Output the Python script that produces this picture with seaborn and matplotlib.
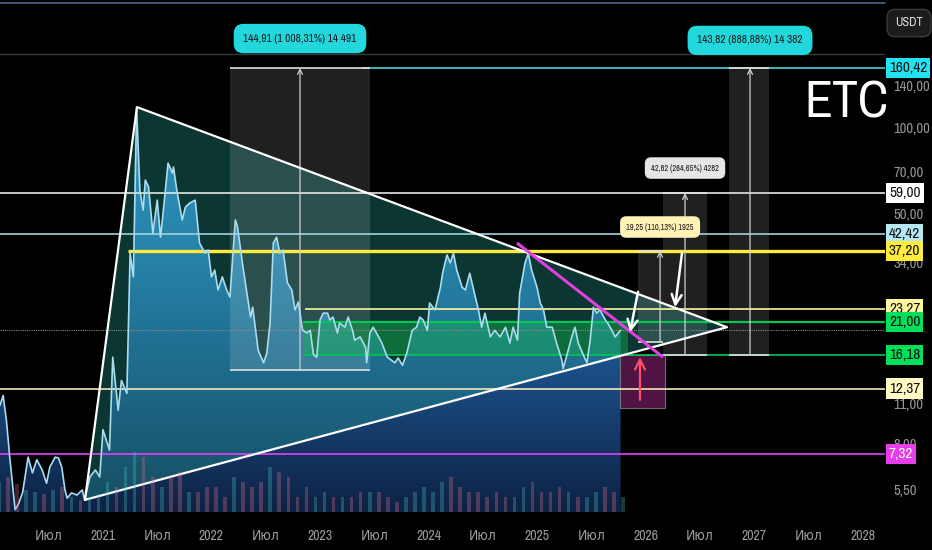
import numpy as np
import pandas as pd
import seaborn as sns
import matplotlib.pyplot as plt
import matplotlib.image as mimage
import matplotlib.transforms as mtransforms
from matplotlib import font_manager
from matplotlib.colors import LinearSegmentedColormap
from matplotlib.patches import Polygon
from matplotlib.ticker import FixedLocator, NullLocator

#------------------------------------------------------------------------------#
# ETC / USDT weekly-ish closes (fractional year, price)
#------------------------------------------------------------------------------#
price_dates = [
    2020.05, 2020.08, 2020.11, 2020.14, 2020.19, 2020.22, 2020.26, 2020.31, 2020.35, 2020.39,
    2020.44, 2020.48, 2020.51, 2020.56, 2020.59, 2020.62, 2020.65, 2020.67, 2020.71, 2020.76,
    2020.81, 2020.83, 2020.88, 2020.93, 2020.97, 2021.00, 2021.06, 2021.09, 2021.14, 2021.17,
    2021.22, 2021.25, 2021.28, 2021.31, 2021.34, 2021.37, 2021.39, 2021.42, 2021.46, 2021.50,
    2021.53, 2021.55, 2021.60, 2021.64, 2021.65, 2021.68, 2021.73, 2021.76, 2021.80, 2021.85,
    2021.89, 2021.94, 2021.97, 2022.00, 2022.03, 2022.06, 2022.10, 2022.14, 2022.17, 2022.22,
    2022.24, 2022.29, 2022.36, 2022.38, 2022.43, 2022.48, 2022.51, 2022.54, 2022.57, 2022.60,
    2022.63, 2022.66, 2022.70, 2022.74, 2022.77, 2022.80, 2022.84, 2022.88, 2022.91, 2022.94,
    2022.97, 2023.00, 2023.03, 2023.07, 2023.09, 2023.12, 2023.16, 2023.18, 2023.23, 2023.26,
    2023.30, 2023.32, 2023.37, 2023.42, 2023.43, 2023.46, 2023.49, 2023.54, 2023.57, 2023.62,
    2023.66, 2023.69, 2023.72, 2023.76, 2023.80, 2023.85, 2023.89, 2023.92, 2023.95, 2023.99,
    2024.01, 2024.06, 2024.11, 2024.13, 2024.17, 2024.20, 2024.23, 2024.26, 2024.31, 2024.34,
    2024.38, 2024.41, 2024.46, 2024.49, 2024.52, 2024.57, 2024.61, 2024.66, 2024.71, 2024.75,
    2024.78, 2024.82, 2024.84, 2024.89, 2024.92, 2024.95, 2025.00, 2025.03, 2025.06, 2025.09,
    2025.14, 2025.18, 2025.23, 2025.24, 2025.28, 2025.32, 2025.35, 2025.38, 2025.42, 2025.46,
    2025.49, 2025.52, 2025.55, 2025.58, 2025.63, 2025.65, 2025.69, 2025.72, 2025.77,
]
price_values = [
    10.8, 11.7, 9.6, 7.2, 4.7, 4.9, 5.4, 7.15, 6.3, 7.0,
    6.45, 5.8, 6.6, 7.15, 7.1, 6.6, 5.5, 5.15, 5.37, 5.28,
    5.5, 5.08, 6.1, 6.45, 6.1, 8.9, 7.56, 15.9, 10.4, 13.2,
    11.9, 36.5, 30.2, 116.5, 60.5, 51.5, 65.5, 62.0, 42.9, 55.8,
    41.5, 48.7, 75.0, 69.3, 72.7, 60.5, 47.6, 52.8, 54.5, 55.8,
    39.6, 36.5, 37.4, 30.2, 31.9, 27.2, 30.2, 27.2, 25.7, 47.6,
    45.0, 32.7, 21.9, 23.7, 16.8, 15.2, 16.4, 20.9, 39.6, 41.5,
    36.5, 37.4, 28.8, 27.2, 23.2, 24.7, 19.7, 19.3, 19.7, 16.2,
    15.9, 21.4, 22.6, 22.6, 21.4, 21.9, 19.3, 20.9, 20.2, 21.9,
    19.7, 18.2, 18.7, 17.2, 15.2, 19.3, 20.2, 18.7, 17.8, 15.9,
    15.5, 15.2, 15.8, 14.9, 16.4, 19.7, 20.2, 21.9, 21.4, 19.7,
    24.5, 23.2, 27.8, 31.1, 36.0, 33.8, 36.5, 31.9, 27.8, 27.2,
    31.1, 27.8, 23.2, 20.2, 22.6, 18.7, 19.7, 18.7, 20.2, 17.8,
    20.2, 18.2, 26.5, 33.8, 36.5, 31.9, 27.8, 24.5, 23.2, 20.2,
    20.2, 17.8, 15.5, 14.5, 16.4, 18.7, 20.2, 17.8, 16.4, 15.2,
    18.2, 23.7, 22.6, 23.2, 21.4, 20.9, 19.7, 18.7, 19.7,
]

# monthly volume, Jan 2020 .. Oct 2025 (relative units)
volume = [
    30, 35, 28, 22, 20, 18, 22, 25, 15, 12, 14, 18,
    30, 25, 45, 60, 55, 35, 25, 35, 40, 20, 20, 25,
    25, 15, 35, 30, 25, 30, 45, 40, 35, 15, 25, 15,
    20, 15, 15, 15, 20, 20, 20, 15, 10, 15, 20, 25,
    20, 30, 35, 25, 20, 20, 15, 20, 15, 15, 25, 30,
    20, 20, 25, 20, 15, 15, 20, 25, 20, 15,
]

# horizontal price levels
level_values = [160.42, 59.00, 42.42, 37.20, 23.27, 21.00, 16.18, 12.37, 7.32]
level_starts = [2023.39, 2020.05, 2020.05, 2021.23, 2022.86, 2022.84, 2022.84, 2020.05, 2020.05]
level_colors = ['#4dd0e1', '#e6e6e6', '#9fd3e0', '#ffeb3b', '#fff59d', '#00c853',
                '#00c853', '#f0e8b8', '#e040fb']
label_colors = ['#22e3f0', '#ffffff', '#b5e8f2', '#ffeb3b', '#fff59d', '#00e05a',
                '#00e05a', '#fff9c4', '#e53ee8']
upper_level = 180.0

axis_ticks = [5.5, 8, 11, 34, 50, 70, 100, 140]

# triangle (wedge) vertices
tri_dates = [2020.834, 2021.313, 2026.751]
tri_prices = [5.08, 117.4, 20.2]

# date/price range measurements: x0, x1, low, high, arrow x
range_x0 = [2022.171, 2026.770, 2026.161, 2025.931]
range_x1 = [2023.461, 2027.138, 2026.567, 2026.161]
range_low = [14.4, 16.18, 16.18, 17.95]
range_high = [160.42, 160.42, 59.00, 37.20]
range_arrow = [2022.816, 2026.963, 2026.364, 2026.134]
range_text = ['144,91 (1 008,31%) 14 491', '143,82 (888,88%) 14 382',
              '42,82 (264,65%) 4282', '19,25 (110,13%) 1925']
range_text_y = [203.0, 200.0, 72.1, 45.0]
range_text_x = [2022.816, 2026.963, 2026.364, 2026.134]
range_text_bg = ['#22d8dc', '#22d8dc', '#e6e6e6', '#fff3b8']

zone_x = [2022.843, 2025.839]
zone_y = [16.18, 21.00]
box_x = [2025.765, 2026.180]
box_y = [10.6, 16.18]
magenta_x = [2024.816, 2026.161]
magenta_y = [39.6, 15.9]
white_arrows = [((2025.931, 26.8), (2025.857, 19.4)),
                ((2026.336, 36.5), (2026.272, 23.7))]
red_arrow = ((2025.949, 11.3), (2025.949, 15.9))

x_ticks = [2020.5, 2021, 2021.5, 2022, 2022.5, 2023, 2023.5, 2024, 2024.5,
           2025, 2025.5, 2026, 2026.5, 2027, 2027.5, 2028]
x_labels = ['Июл', '2021', 'Июл', '2022', 'Июл', '2023', 'Июл', '2024', 'Июл',
            '2025', 'Июл', '2026', 'Июл', '2027', 'Июл', '2028']

#------------------------------------------------------------------------------#
def fmt(v):
    return ('%.2f' % v).replace('.', ',')


def pick_narrow_font():
    """Look for a condensed / narrow sans face; fall back to Liberation Sans."""
    for key in ('Narrow', 'Condensed', 'Cond'):
        for f in font_manager.fontManager.ttflist:
            base = f.fname.split('/')[-1]
            if key in base and f.style == 'normal' and 'Mono' not in base \
                    and 'Bold' not in base and 'Italic' not in base:
                return f.name, f.stretch, 1.0
    return 'Liberation Sans', 'normal', 0.8


def main():
    sns.set_theme(style='dark', rc={'axes.facecolor': 'black',
                                    'figure.facecolor': 'black'})
    name, stretch, small = pick_narrow_font()
    plt.rcParams['font.family'] = [name, 'DejaVu Sans']
    plt.rcParams['font.stretch'] = stretch

    x_left, x_right = 2020.051, 2028.207
    y_low, y_high = 4.61, 276.3

    fig = plt.figure(figsize=(9.32, 5.5), dpi=100, facecolor='black')
    ax = fig.add_axes([0, 38 / 550, 885 / 932, 512 / 550])
    ax.set_facecolor('black')
    ax.set_yscale('log')

    df = pd.DataFrame({'date': price_dates, 'price': price_values})

    # gradient area under the price
    poly = np.column_stack([[price_dates[0]] + price_dates + [price_dates[-1]],
                            [1.0] + price_values + [1.0]])
    area = Polygon(poly, closed=True, fc='none', ec='none')
    ax.add_patch(area)
    cmap = LinearSegmentedColormap.from_list(
        'area', ['#0d2244', '#1a4a80', '#2771b0', '#3189cc', '#3a95d6'])
    im = mimage.AxesImage(ax, cmap=cmap, origin='lower', extent=[0, 1, 0, 1],
                          transform=ax.transAxes, interpolation='bilinear')
    im.set_data(np.linspace(0, 1, 256).reshape(-1, 1))
    im.set_clip_path(area)
    im.set_zorder(1)
    ax.add_image(im)

    # wedge fill
    ax.fill(tri_dates, tri_prices, color='#26a69a', alpha=0.33, lw=0, zorder=2)

    # range measurement boxes
    for x0, x1, lo, hi, xa in zip(range_x0, range_x1, range_low, range_high, range_arrow):
        ax.fill_between([x0, x1], lo, hi, color='white', alpha=0.13, lw=0, zorder=2.2)
        ax.hlines([lo, hi], x0, x1, color='#e0e0e0', lw=1.2, zorder=3.2)
        ax.annotate('', xy=(xa, hi), xytext=(xa, lo), zorder=3.3,
                    arrowprops=dict(arrowstyle='->', color='#cfcfcf', lw=0.9,
                                    shrinkA=0, shrinkB=0, mutation_scale=9))

    # support zone and target box
    ax.fill_between(zone_x, zone_y[0], zone_y[1], color='#14b04a', alpha=0.45,
                    lw=0, zorder=2.3)
    ax.fill_between(box_x, box_y[0], box_y[1], color='#6a1b5a', alpha=0.75,
                    lw=0.8, edgecolor='#8a8a8a', zorder=2.4)

    # levels
    ax.axhline(upper_level, color='#3a3a3a', lw=1, zorder=3)
    ax.hlines(level_values, level_starts, x_right, colors=level_colors,
              lw=[1.2, 1.2, 1.2, 2.4, 1.2, 1.6, 1.2, 1.2, 1.2], zorder=3)
    ax.axhline(price_values[-1], color='#8a8a8a', lw=0.8, ls=(0, (1, 1)), zorder=3)

    # price line
    sns.lineplot(data=df, x='date', y='price', ax=ax, color='#a9dcef', lw=1.2,
                 zorder=3.5, sort=False)

    # wedge edges
    ax.plot(tri_dates + tri_dates[:1], tri_prices + tri_prices[:1],
            color='white', lw=1.6, zorder=4)
    ax.plot(magenta_x, magenta_y, color='#e040e0', lw=2.2, zorder=4,
            solid_capstyle='butt')

    for tail, head in white_arrows:
        ax.annotate('', xy=head, xytext=tail, zorder=4.5,
                    arrowprops=dict(arrowstyle='->', color='white', lw=1.8,
                                    shrinkA=0, shrinkB=0, mutation_scale=18))
    ax.annotate('', xy=red_arrow[1], xytext=red_arrow[0], zorder=4.5,
                arrowprops=dict(arrowstyle='->', color='#ff4d6a', lw=1.6,
                                shrinkA=0, shrinkB=0, mutation_scale=18))

    # range labels
    for i, (tx, ty, txt, bg) in enumerate(zip(range_text_x, range_text_y,
                                                 range_text, range_text_bg)):
        big = i < 2
        ax.text(tx, ty, txt, ha='center', va='center', color='#1a1a1a',
                fontsize=(8.2 if big else 6.0) * small, zorder=6,
                bbox=dict(boxstyle='round,pad=%s' % ('0.85' if big else '0.75'),
                          fc=bg, ec='none'))

    # axes
    ax.set_xlim(x_left, x_right)
    ax.set_ylim(y_low, y_high)
    for s in ax.spines.values():
        s.set_visible(False)
    ax.grid(False)
    ax.set_xlabel('')
    ax.set_ylabel('')
    ax.xaxis.set_major_locator(FixedLocator(x_ticks))
    ax.set_xticklabels(x_labels)
    ax.yaxis.tick_right()
    ax.yaxis.set_major_locator(FixedLocator(axis_ticks))
    ax.yaxis.set_minor_locator(NullLocator())
    ax.set_yticklabels([fmt(v) for v in axis_ticks])
    ax.tick_params(axis='x', colors='#9a9a9a', labelsize=10 * small, length=0, pad=12)
    ax.tick_params(axis='y', colors='#959595', labelsize=10.5 * small, length=0, pad=6)

    # price labels on the scale
    trans = mtransforms.blended_transform_factory(ax.transAxes, ax.transData)
    for v, c in zip(level_values, label_colors):
        ax.text(1.0045, v, fmt(v), transform=trans, ha='left', va='center',
                fontsize=11 * small, color='white' if c == '#e53ee8' else '#111111',
                clip_on=False, zorder=7,
                bbox=dict(boxstyle='square,pad=0.2', fc=c, ec='none'))

    # top border line
    ax.plot([0, 1], [0.994, 0.994], transform=ax.transAxes, color='#4a6690',
            lw=1.2, zorder=5, clip_on=False)

    # volume
    vax = fig.add_axes([0, 38 / 550, 885 / 932, 512 / 550], sharex=ax)
    vax.set_facecolor('none')
    months = pd.date_range('2020-01-01', periods=len(volume), freq='MS')
    vol_x = months.year + (months.month - 1) / 12 + 1 / 24
    step_up = np.interp(vol_x + 1 / 24, price_dates, price_values) >= \
        np.interp(vol_x - 1 / 24, price_dates, price_values)
    vol_colors = np.where(step_up, '#4fc3c0', '#e57390')
    vax.bar(vol_x, volume, width=1 / 12 * 0.4, color=vol_colors, alpha=0.3, lw=0)
    vax.set_ylim(0, max(volume) * 8.5)
    vax.set_xlim(x_left, x_right)
    vax.axis('off')

    # ticker and currency
    fig.text(846 / 932, 1 - 103 / 550, 'ETC', color='white', fontsize=37 * small,
             ha='center', va='center')
    fig.text(909 / 932, 1 - 23 / 550, 'USDT', color='#e0e0e0', fontsize=9 * small,
             ha='center', va='center',
             bbox=dict(boxstyle='round,pad=0.65', fc='#1c1c1c', ec='#3a3a3a', lw=1))

    fig.savefig('out.png', dpi=100, facecolor='black')


if __name__ == '__main__':
    main()
